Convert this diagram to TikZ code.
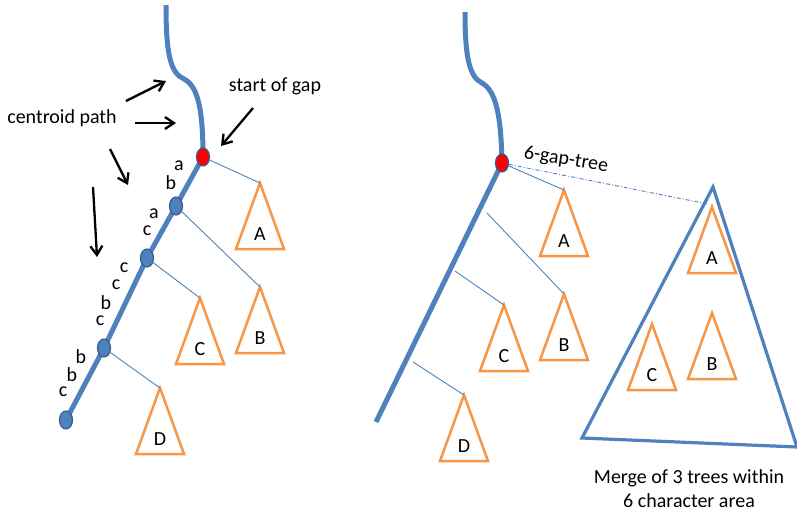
\documentclass[tikz,border=0pt]{standalone}
\usepackage{fontspec}
\setmainfont{Carlito}
\usetikzlibrary{arrows.meta,calc,shapes.geometric}
\definecolor{pathblue}{HTML}{4F81BD}
\definecolor{nodeedge}{HTML}{385D8A}
\definecolor{subcol}{HTML}{F79646}
\tikzset{
  spine/.style={pathblue, line width=5pt},
  branch/.style={pathblue, line width=0.9pt},
  subtri/.style={subcol, line width=2.5pt, line join=miter},
  bigtri/.style={pathblue, line width=3.2pt, line join=miter},
  vtx/.style={ellipse, draw=nodeedge, fill=pathblue, line width=1.2pt,
    minimum width=13pt, minimum height=18pt, inner sep=0pt},
  gapvtx/.style={vtx, fill=red},
  lbl/.style={font=\fontsize{20}{24}\selectfont, inner sep=1pt, text=black},
  pointer/.style={black, line width=2.3pt, -{Straight Barb[length=9pt,width=12pt]}},
}
% a subtree: apex name, apex x, apex y, letter
\newcommand{\subtree}[4]{%
  \coordinate (#1) at (#2,#3);
  \draw[subtri] (#1) -- ++(-24,66) -- ++(48,0) -- cycle;
  \node[lbl] (#1-txt) at ($(#1)+(0,51)$) {#4};
}
\begin{document}
\begin{tikzpicture}[x=1pt,y=-1pt]
\useasboundingbox (0,0) rectangle (797,515);

% ---------------- left tree ----------------
\coordinate (pL) at (203,157);
\coordinate (q1) at (176,206);
\coordinate (q2) at (147,258);
\coordinate (q3) at (104,348);
\coordinate (q4) at (66,420);
\draw[spine] (166,5) .. controls (166,57) and (171,73) .. (184,79)
  .. controls (198,86) and (203,110) .. (pL);
\draw[spine] (pL) -- (q1) -- (q2) -- (q3) -- (q4);

\subtree{aL}{260}{183}{A}
\subtree{bL}{260}{287}{B}
\subtree{cL}{200}{298}{C}
\subtree{dL}{160}{388}{D}

\node[gapvtx] (gapL) at (pL) {};
\node[vtx] (v1) at (q1) {};
\node[vtx] (v2) at (q2) {};
\node[vtx] (v3) at (q3) {};
\node[vtx] (v4) at (q4) {};

\draw[branch] (gapL) -- (aL);
\draw[branch] (v1) -- (bL);
\draw[branch] (v2) -- (cL);
\draw[branch] (v3) -- (dL);

% edge labels along the centroid path
\node[lbl] (s1) at (179,166) {a};
\node[lbl] (s2) at (171,183) {b};
\node[lbl] (s3) at (154,214) {a};
\node[lbl] (s4) at (147,231) {c};
\node[lbl] (s5) at (124,268) {c};
\node[lbl] (s6) at (116,285) {c};
\node[lbl] (s7) at (106,303) {b};
\node[lbl] (s8) at (100,321) {c};
\node[lbl] (s9) at (81,357) {b};
\node[lbl] (s10) at (72,375) {b};
\node[lbl] (s11) at (63,392) {c};

% annotations
\node[lbl] (cp) at (62,118) {centroid path};
\node[lbl] (sg) at (275,86) {start of gap};
\coordinate (p1s) at (126,101); \coordinate (p1e) at (166,81);
\coordinate (p2s) at (135,123); \coordinate (p2e) at (176,123);
\coordinate (p3s) at (110,149); \coordinate (p3e) at (128,185);
\coordinate (p4s) at (93,187);  \coordinate (p4e) at (97,257);
\coordinate (gs) at (253,108);  \coordinate (ge) at (221,146);
\draw[pointer] (p1s) -- (p1e);
\draw[pointer] (p2s) -- (p2e);
\draw[pointer] (p3s) -- (p3e);
\draw[pointer] (p4s) -- (p4e);
\draw[pointer] (gs) -- (ge);

% ---------------- right tree ----------------
\coordinate (pR) at (502,163);
\coordinate (qR) at (376,422);
\draw[spine] (465,12) .. controls (465,60) and (470,77) .. (482,83)
  .. controls (496,91) and (501,115) .. (pR);
\draw[spine] (pR) -- (qR);

\subtree{aR}{564}{190}{A}
\subtree{bR}{564}{294}{B}
\subtree{cR}{504}{305}{C}
\subtree{dR}{464}{395}{D}

\node[gapvtx] (gapR) at (pR) {};

\coordinate (t2) at (487,213);
\coordinate (t3) at (455,271);
\coordinate (t4) at (413,362);
\draw[branch] (gapR) -- (aR);
\draw[branch] (t2) -- (bR);
\draw[branch] (t3) -- (cR);
\draw[branch] (t4) -- (dR);

% merged area
\coordinate (mTop) at (713,187);
\coordinate (mLeft) at (582,438);
\coordinate (mRight) at (797,447);
\draw[bigtri] (mTop) -- (mLeft) -- (mRight) -- cycle;
\subtree{aM}{712}{207}{A}
\subtree{bM}{712}{313}{B}
\subtree{cM}{652}{324}{C}

\coordinate (gt) at (708,204);
\draw[pathblue, line width=0.9pt, dash pattern=on 4pt off 2pt on 1pt off 2pt]
  (gapR) -- (gt);
\node[lbl, rotate=-9] (gtl) at (566,160) {6-gap-tree};

\node[lbl, align=center] (mrg) at (689,489)
  {Merge of 3 trees within\\6 character area};
\end{tikzpicture}
\end{document}
